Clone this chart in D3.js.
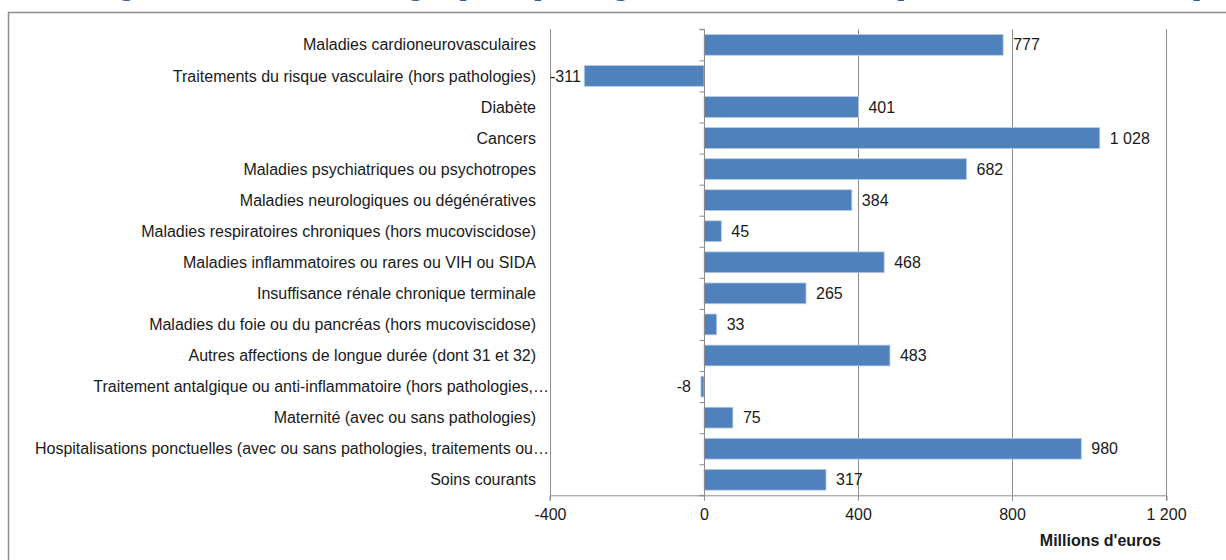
<!DOCTYPE html>
<html>
<head>
<meta charset="utf-8">
<script src="https://cdn.jsdelivr.net/npm/d3@7"></script>
<style>
  body { margin: 0; background: #fff; }
  svg { display: block; font-family: "Liberation Sans", Arial, sans-serif; }
</style>
</head>
<body>
<svg width="1226" height="560"></svg>
<script>
// categories, top to bottom
var categories = [
  "Maladies cardioneurovasculaires",
  "Traitements du risque vasculaire (hors pathologies)",
  "Diabète",
  "Cancers",
  "Maladies psychiatriques ou psychotropes",
  "Maladies neurologiques ou dégénératives",
  "Maladies respiratoires chroniques (hors mucoviscidose)",
  "Maladies inflammatoires ou rares ou VIH ou SIDA",
  "Insuffisance rénale chronique terminale",
  "Maladies du foie ou du pancréas (hors mucoviscidose)",
  "Autres affections de longue durée (dont 31 et 32)",
  "Traitement antalgique ou anti-inflammatoire (hors pathologies,…",
  "Maternité (avec ou sans pathologies)",
  "Hospitalisations ponctuelles (avec ou sans pathologies, traitements ou…",
  "Soins courants"
];
// millions d'euros
var values = [777, -311, 401, 1028, 682, 384, 45, 468, 265, 33, 483, -8, 75, 980, 317];
var xTicks = [-400, 0, 400, 800, 1200];
var axisTitle = "Millions d'euros";
var title = "Figure 10 : Contribution des groupes de pathologies à la croissance des dépenses entre 2012 et 2015, par pathologie";

var fr = d3.formatLocale({decimal: ",", thousands: "\u00a0", grouping: [3], currency: ["", " €"]});
var fmt = fr.format(",d");
var fs = 16;

var svg = d3.select("svg");
var grey = "#8c8c8c";

// frame + title (cut by the top edge, as in the source)
svg.append("rect")
  .attr("x", 8.5).attr("y", 12.5)
  .attr("width", 1300).attr("height", 600)
  .attr("fill", "none").attr("stroke", grey).attr("stroke-width", 1.5);

svg.append("text")
  .attr("x", 100).attr("y", -3)
  .attr("font-family", "'DejaVu Serif', 'Liberation Serif', serif")
  .attr("font-weight", "bold").attr("font-size", 19)
  .attr("fill", "#365f91")
  .text(title);

var x = d3.scaleLinear().domain([-400, 1200]).range([550, 1166]);
var plotTop = 29.3, plotBottom = 495.3;
var y = d3.scaleBand().domain(categories).range([plotTop, plotBottom]).paddingInner(0.33).paddingOuter(0.165);

// vertical gridlines
svg.append("g").selectAll("line")
  .data(xTicks.filter(function(d){ return d !== 0; }))
  .enter().append("line")
  .attr("x1", function(d){ return x(d) + 0.5; })
  .attr("x2", function(d){ return x(d) + 0.5; })
  .attr("y1", plotTop).attr("y2", plotBottom)
  .attr("stroke", grey).attr("stroke-width", 1);

// bars
svg.append("g").selectAll("rect")
  .data(values)
  .enter().append("rect")
  .attr("x", function(d){ return x(Math.min(0, d)); })
  .attr("width", function(d){ return Math.abs(x(d) - x(0)); })
  .attr("y", function(d, i){ return y(categories[i]); })
  .attr("height", y.bandwidth())
  .attr("fill", "#4f81bd")
  .attr("stroke", "#b9cde5").attr("stroke-width", 0.8);

// zero axis with ticks between categories
var yEdges = d3.scaleLinear().domain([0, categories.length]).range([plotTop, plotBottom]);
svg.append("g")
  .attr("transform", "translate(" + (x(0) + 0.5) + ",0)")
  .call(d3.axisLeft(yEdges).ticks(categories.length).tickSize(5).tickFormat(""))
  .call(function(g){
    g.selectAll("path, line").attr("stroke", grey);
    g.select(".domain").attr("d", "M-5," + plotTop + "H0V" + plotBottom + "H-5");
  });

// bottom axis
svg.append("g")
  .attr("transform", "translate(0," + (plotBottom + 0.5) + ")")
  .call(d3.axisBottom(x).tickValues(xTicks).tickSize(5).tickPadding(8)
    .tickFormat(function(d){ return fmt(d).replace("−", "-"); }))
  .call(function(g){
    g.selectAll("path, line").attr("stroke", grey);
    g.select(".domain").attr("d", "M" + x(-400) + ",5V0H" + (x(1200) + 1) + "V5");
    g.selectAll("text").attr("font-size", fs).attr("fill", "#1a1a1a")
      .attr("font-family", "'Liberation Sans', Arial, sans-serif");
  });

svg.append("text")
  .attr("x", 1161).attr("y", 546)
  .attr("text-anchor", "end")
  .attr("font-size", fs).attr("font-weight", "bold").attr("fill", "#1a1a1a")
  .text(axisTitle);

// category labels
svg.append("g").selectAll("text")
  .data(categories)
  .enter().append("text")
  .attr("x", function(d){ return /…$/.test(d) ? 549 : 536; })
  .attr("y", function(d){ return y(d) + y.bandwidth() / 2; })
  .attr("dy", "0.35em")
  .attr("text-anchor", "end")
  .attr("font-size", fs).attr("fill", "#1a1a1a")
  .text(function(d){ return d; });

// value labels
svg.append("g").selectAll("text")
  .data(values)
  .enter().append("text")
  .attr("y", function(d, i){ return y(categories[i]) + y.bandwidth() / 2; })
  .attr("dy", "0.35em")
  .attr("font-size", fs).attr("fill", "#1a1a1a")
  .text(function(d){ return fmt(d).replace("−", "-"); })
  .each(function(d){
    var t = d3.select(this);
    if (d >= 0) {
      t.attr("x", x(d) + 10).attr("text-anchor", "start");
    } else {
      var w = this.getComputedTextLength();
      var xe = Math.max(x(d) - 10, x(-400) + w);
      t.attr("x", xe).attr("text-anchor", "end");
    }
  });
</script>
</body>
</html>
